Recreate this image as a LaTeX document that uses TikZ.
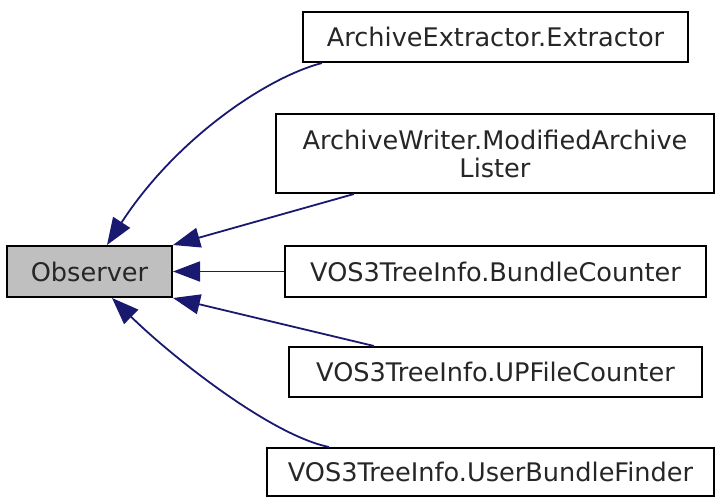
\documentclass[tikz,border=0pt]{standalone}
\usepackage{fontspec}
\setmainfont{DejaVu Sans}
\usetikzlibrary{arrows.meta}
\definecolor{edgeblue}{RGB}{25,25,112}
\definecolor{basegray}{RGB}{191,191,191}
\tikzset{
  cls/.style={draw=black,line width=2pt,rectangle,inner sep=0pt,align=center,
    text=black!85,font=\fontsize{25.6}{28}\selectfont},
  inh/.style={draw=edgeblue,line width=1.8pt,-{Triangle[length=27pt,width=20pt,fill=edgeblue]}},
}
\begin{document}
\begin{tikzpicture}[x=1pt,y=-1pt]
      \useasboundingbox (0,0) rectangle (715,497);
      \node[cls,fill=basegray,minimum width=165pt,minimum height=51pt] (observer) at (89.5,271.5) {Observer};
      \node[cls,minimum width=385pt,minimum height=50pt] (extractor) at (495.5,37) {ArchiveExtractor.Extractor};
      \node[cls,minimum width=438pt,minimum height=79pt] (lister) at (495,153.5) {ArchiveWriter.ModifiedArchive\\Lister};
      \node[cls,minimum width=421pt,minimum height=51pt] (bundlecounter) at (495.5,271.5) {VOS3TreeInfo.BundleCounter};
      \node[cls,minimum width=413pt,minimum height=50pt] (upfilecounter) at (495.5,372) {VOS3TreeInfo.UPFileCounter};
      \node[cls,minimum width=447pt,minimum height=48pt] (finder) at (490.5,472) {VOS3TreeInfo.UserBundleFinder};
      % inheritance edges
      \draw[inh] ([xshift=20pt]extractor.south west) .. controls (265,78) and (175,140) .. ([xshift=101pt]observer.north west);
      \draw[inh] ([xshift=79pt]lister.south west) -- (observer.north east);
      \draw[inh] (bundlecounter.west) -- (observer.east);
      \draw[inh] ([xshift=86pt]upfilecounter.north west) -- (observer.south east);
      \draw[inh] ([xshift=63pt]finder.north west) .. controls (270,435) and (170,355) .. ([xshift=106pt]observer.south west);
\end{tikzpicture}
\end{document}
